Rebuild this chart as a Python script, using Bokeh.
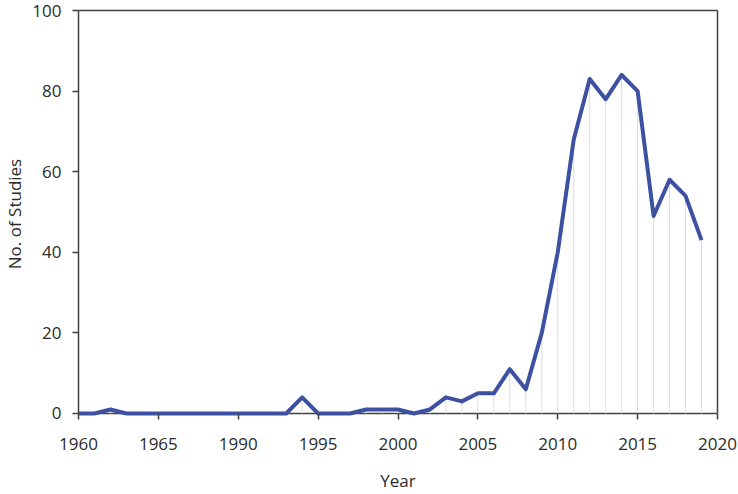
from bokeh.plotting import figure
from bokeh.models import ColumnDataSource, Range1d, FixedTicker, LinearAxis, Span
from bokeh.embed import file_html
from bokeh.resources import INLINE

# positions along the (compressed) year axis and study counts
x_index = list(range(40))
counts = [0, 0, 1, 0, 0, 0, 0, 0, 0, 0,
          0, 0, 0, 0, 4, 0, 0, 0, 1, 1,
          1, 0, 1, 4, 3, 5, 5, 11, 6, 20,
          40, 68, 83, 78, 84, 80, 49, 58, 54, 43]

tick_positions = [0, 5, 10, 15, 20, 25, 30, 35, 40]
tick_labels = ["1960", "1965", "1990", "1995", "2000", "2005", "2010", "2015", "2020"]
y_ticks = [0, 20, 40, 60, 80, 100]

FONT = "Open Sans"
AX = "#404040"
TXT = "#2b2b2b"

src = ColumnDataSource(dict(x=x_index, y=counts, y0=[0] * len(counts)))

p = figure(width=738, height=494, output_backend="svg", toolbar_location=None,
           x_range=Range1d(0, 40), y_range=Range1d(-1, 100),
           min_border_left=77, min_border_right=21, min_border_top=10, min_border_bottom=77)

# baseline (x axis line at zero), drawn beneath the data
p.add_layout(Span(location=0, dimension="width", line_color=AX, line_width=1.5, level="underlay"))

p.segment(x0="x", y0="y0", x1="x", y1="y", source=src, line_color="#dcdcdc", line_width=1)
p.line(x="x", y="y", source=src, line_color="#3D51A2", line_width=4, line_join="round")

p.grid.visible = False
p.outline_line_color = None
p.background_fill_color = "white"
p.border_fill_color = "white"

p.xaxis.ticker = FixedTicker(ticks=tick_positions)
p.xaxis.major_label_overrides = {t: l for t, l in zip(tick_positions, tick_labels)}
p.yaxis.ticker = FixedTicker(ticks=y_ticks)
p.yaxis.bounds = (0, 100)

for ax in (p.xaxis, p.yaxis):
    ax.axis_line_color = AX
    ax.axis_line_width = 1.5
    ax.major_tick_line_color = AX
    ax.major_tick_line_width = 1.5
    ax.major_tick_out = 6
    ax.major_tick_in = 0
    ax.minor_tick_line_color = None
    ax.major_label_text_font = FONT
    ax.major_label_text_font_size = "17px"
    ax.major_label_text_color = TXT
    ax.axis_label_text_font = FONT
    ax.axis_label_text_font_size = "17px"
    ax.axis_label_text_font_style = "normal"
    ax.axis_label_text_color = TXT

# x axis sits on the frame bottom (y=-1); its ticks reach up to y=0
p.xaxis.axis_line_color = None
p.xaxis.major_tick_in = 4
p.xaxis.major_tick_out = 2
p.xaxis.axis_label = "Year"
p.xaxis.major_label_standoff = 18
p.xaxis.axis_label_standoff = 16
p.yaxis.axis_label = "No. of Studies"
p.yaxis.major_label_standoff = 11
p.yaxis.axis_label_standoff = 3

# plain frame lines on the top and right (no ticks, no labels)
right_ax = LinearAxis(ticker=FixedTicker(ticks=[]), bounds=(0, 100),
                      axis_line_color=AX, axis_line_width=1.5,
                      major_label_text_font_size="0px", minor_tick_line_color=None)
top_ax = LinearAxis(ticker=FixedTicker(ticks=[]),
                    axis_line_color=AX, axis_line_width=1.5,
                    major_label_text_font_size="0px", minor_tick_line_color=None)
p.add_layout(right_ax, "right")
p.add_layout(top_ax, "above")

open("out.html", "w").write(file_html(p, INLINE))
